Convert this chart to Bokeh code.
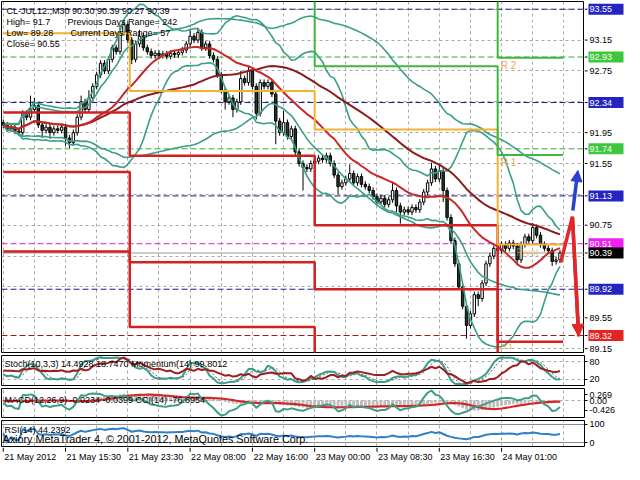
import numpy as np
import pandas as pd
from bokeh.plotting import figure
from bokeh.layouts import column, row
from bokeh.models import (ColumnDataSource, FixedTicker, Label, Range1d, Span, Arrow,
                          NormalHead)
from bokeh.core.properties import value
from bokeh.embed import file_html
from bokeh.resources import INLINE

# ---------------- data ----------------
close = [92.05, 92.00, 92.02, 91.97, 91.95, 92.20, 92.15, 92.25, 92.30, 92.05,
         91.98, 92.02, 91.95, 92.00, 91.98, 92.02, 91.88, 91.82, 91.95, 92.15,
         92.35, 92.25, 92.40, 92.55, 92.70, 92.85, 92.75, 92.90, 93.05, 93.00,
         93.25, 93.35, 93.15, 92.90, 93.10, 93.20, 93.05, 93.00, 92.95, 92.98,
         92.95, 92.97, 92.94, 92.98, 92.96, 92.99, 93.02, 93.10, 93.20, 93.15,
         93.25, 93.05, 93.10, 92.95, 92.90, 92.70, 92.50, 92.35, 92.40, 92.25,
         92.35, 92.65, 92.60, 92.75, 92.55, 92.20, 92.60, 92.55, 92.60, 92.45,
         92.10, 91.95, 92.08, 91.90, 92.00, 91.70, 91.55, 91.50, 91.48, 91.55,
         91.58, 91.62, 91.60, 91.65, 91.55, 91.40, 91.25, 91.30, 91.35, 91.42,
         91.30, 91.38, 91.28, 91.25, 91.20, 91.12, 91.05, 91.10, 91.02, 91.08,
         91.20, 91.00, 90.92, 90.95, 90.92, 90.98, 90.95, 91.05, 91.18, 91.30,
         91.48, 91.35, 91.45, 91.20, 90.85, 90.55, 90.25, 89.95, 89.70, 89.45,
         89.60, 89.85, 89.80, 90.00, 90.25, 90.35, 90.45, 90.42, 90.50, 90.45,
         90.52, 90.48, 90.30, 90.50, 90.60, 90.55, 90.72, 90.62, 90.50, 90.45,
         90.42, 90.28, 90.30, 90.39]
first_open = 92.08
wick_default = 0.04
wick_up_big = {7: 0.18, 8: 0.10, 20: 0.08, 22: 0.10, 30: 0.10, 31: 0.06, 35: 0.08,
               48: 0.08, 50: 0.06, 61: 0.10, 63: 0.06, 72: 0.15, 89: 0.12, 100: 0.10,
               110: 0.08, 112: 0.10, 136: 0.06}
wick_dn_big = {10: 0.10, 12: 0.08, 16: 0.10, 17: 0.07, 33: 0.06, 57: 0.10, 59: 0.10,
               65: 0.08, 70: 0.30, 77: 0.30, 86: 0.10, 101: 0.08, 102: 0.15, 113: 0.15,
               119: 0.17, 122: 0.10, 132: 0.06, 141: 0.06}

date_ticks = [0, 16, 32, 48, 64, 80, 96, 112, 128]
date_labels = ["21 May 2012", "21 May 15:30", "21 May 23:30", "22 May 08:00",
               "22 May 16:00", "23 May 00:00", "23 May 08:30", "23 May 16:30",
               "24 May 01:00"]

# daily pivot levels (4 days)
day_edges = [0, 32.5, 80, 127, 143.8]
pivot = [93.24, 92.49, 91.99, 90.50]
s1 = [92.21, 91.65, 90.75, 89.24]
s2 = [91.44, 90.27, 89.92, 88.08]
s3 = [90.41, 89.43, 88.69, 86.82]
r1 = [94.01, 93.87, 92.81, 91.66]
r2 = [94.75, 94.71, 94.05, 92.92]

level_values = [93.55, 92.93, 92.34, 91.74, 91.13, 90.51, 90.39, 89.92, 89.32]
level_colors = ["#2424c0", "#3cc83c", "#2424c0", "#3cc83c", "#2424c0",
                "#f020f0", "#000000", "#2424c0", "#e62222"]
price_ticks = [89.15, 89.55, 90.75, 91.55, 91.95, 92.75, 93.15]
price_grid = [89.15, 89.55, 89.95, 90.35, 90.75, 91.15, 91.55, 91.95, 92.35, 92.75,
              93.15, 93.55]

fc_red_x = [143.2, 146.2, 147.8]
fc_red_y = [90.27, 90.86, 89.31]
fc_blue_x = [146.3, 147.6]
fc_blue_y = [90.94, 91.46]

info_lines = ["CL-JUL12.,M30  90.30 90.39 90.27 90.39", "High= 91.7", "Low= 89.28",
              "Close= 90.55"]
info_right = ["Previous Days Range= 242", "Current Days Range= 57"]

# ---------------- derived ----------------
n = len(close)
idx = np.arange(n)
c = pd.Series(close, dtype=float)
o = pd.Series([first_open] + close[:-1], dtype=float)
up = np.array([wick_up_big.get(i, wick_default) for i in range(n)])
dn = np.array([wick_dn_big.get(i, wick_default) for i in range(n)])
hi = pd.Series(np.maximum(o, c) + up)
lo = pd.Series(np.minimum(o, c) - dn)

ma_fast = c.rolling(20, min_periods=1).mean()
sd_fast = c.rolling(20, min_periods=1).std(ddof=0)
ma_slow = c.rolling(50, min_periods=1).mean()
sd_slow = c.rolling(50, min_periods=1).std(ddof=0)

ll = lo.rolling(10, min_periods=1).min()
hh = hi.rolling(10, min_periods=1).max()
stk = (c - ll).rolling(3, min_periods=1).sum() / (hh - ll).rolling(3, min_periods=1).sum() * 100
std_ = stk.rolling(3, min_periods=1).mean()
ref_i = np.maximum(idx - 14, 0)
mom = c.values / c.values[ref_i] * 100

macd = c.ewm(span=12, adjust=False).mean() - c.ewm(span=26, adjust=False).mean()
sig = macd.rolling(9, min_periods=1).mean()
tp = (hi + lo + c) / 3
sma_tp = tp.rolling(14, min_periods=1).mean()
mad = tp.rolling(14, min_periods=1).apply(lambda s: np.mean(np.abs(s - s.mean())), raw=True)
cci = ((tp - sma_tp) / (0.015 * mad.replace(0, np.nan))).fillna(0)

delta = c.diff().fillna(0)
gain = delta.clip(lower=0).ewm(alpha=1 / 14, adjust=False).mean()
loss = (-delta.clip(upper=0)).ewm(alpha=1 / 14, adjust=False).mean()
rsi = (100 - 100 / (1 + gain / loss.replace(0, np.nan))).fillna(50)

# ---------------- styling helpers ----------------
FONT = "Liberation Sans"
FW = 583
RB = 40
TEAL = "#3c9e86"
x_range = Range1d(-0.45, 149.3)


def base_fig(frame_h, y_range, top=2, bottom=1, right=RB, yaxis="right"):
    f = figure(frame_width=FW, frame_height=frame_h, x_range=x_range, y_range=y_range,
               output_backend="svg", toolbar_location=None, x_axis_location=None,
               y_axis_location=yaxis, min_border_left=1, min_border_right=right,
               min_border_top=top, min_border_bottom=bottom)
    f.outline_line_color = "black"
    f.outline_line_alpha = 1
    f.outline_line_width = 1
    f.background_fill_color = "white"
    f.border_fill_color = "white"
    f.xgrid.ticker = FixedTicker(ticks=list(range(0, 150, 8)))
    f.grid.grid_line_color = "#a9a9a9"
    f.grid.grid_line_dash = "3 3"
    if yaxis is not None:
        ax = f.yaxis[0]
        ax.major_label_text_font = FONT
        ax.major_label_text_font_size = "9px"
        ax.major_label_text_color = "black"
        ax.major_tick_out = 3
        ax.major_tick_in = 0
        ax.minor_tick_out = 0
        ax.minor_tick_in = 0
        ax.axis_line_color = None
        ax.major_label_standoff = 2
    return f


def txt(f, x, y, s, size="9px", color="black", dx=4):
    f.add_layout(Label(x=x, y=y, text=s, x_offset=dx, text_font=FONT, text_font_size=size,
                       text_color=color, text_baseline="middle", text_align="left"))


# ---------------- main chart ----------------
main_y = Range1d(89.10, 93.65)
p = base_fig(351, main_y, top=1, bottom=1, right=0, yaxis=None)
p.ygrid.ticker = FixedTicker(ticks=price_grid)

dash_cols = {"#2424c0": "#1c1c8c", "#3cc83c": "#3aa83a", "#f020f0": "#d020d0",
             "#000000": "#9a9a9a", "#e62222": "#a01818"}
for v, col in zip(level_values, level_colors):
    dash = "solid" if col == "#000000" else "6 3"
    p.add_layout(Span(location=v, dimension="width", line_color=dash_cols[col],
                      line_dash=dash, line_width=1, level="underlay"))


def step_xy(vals):
    xs, ys = [], []
    for k, v in enumerate(vals):
        xs += [day_edges[k], day_edges[k + 1]]
        ys += [v, v]
    return xs, ys


# candles
is_bull = (c >= o).values
src = ColumnDataSource(dict(x=idx, h=hi.values, l=lo.values,
                            top=np.maximum(o, c).values, bot=np.minimum(o, c).values,
                            fill=np.where(is_bull, "white", "#1f3d1f")))
p.segment(x0="x", y0="l", x1="x", y1="h", source=src, line_color="black", line_width=1)
p.vbar(x="x", width=0.62, top="top", bottom="bot", source=src, fill_color="fill",
       line_color="black", line_width=1)

# bands and averages
p.line(idx, ma_slow + 1.6 * sd_slow, line_color=TEAL, line_width=1.6)
p.line(idx, ma_slow - 1.6 * sd_slow, line_color=TEAL, line_width=1.6)
p.line(idx, ma_fast + 2 * sd_fast, line_color=TEAL, line_width=1.6)
p.line(idx, ma_fast - 2 * sd_fast, line_color=TEAL, line_width=1.6)
p.line(idx, ma_slow, line_color="#8c1c1c", line_width=2)
p.line(idx, ma_fast, line_color="#c82828", line_width=2)

# pivot step lines
for vals, col, w in [(s1, "#d42020", 2.5), (s2, "#d42020", 2.5), (s3, "#d42020", 2.5),
                     (pivot, "#f2b233", 2), (r1, "#3cb83c", 2), (r2, "#3cb83c", 2)]:
    xs, ys = step_xy(vals)
    p.line(xs, ys, line_color=col, line_width=w)

lab_col = "#e6aa55"
for s, v in [("R 2", r2[3]), ("R 1", r1[3])]:
    p.add_layout(Label(x=day_edges[3], y=v, text=s, x_offset=3, y_offset=-2,
                       text_font=FONT, text_font_size="10px", text_color=lab_col,
                       text_baseline="top"))
p.add_layout(Label(x=day_edges[3], y=s1[3], text="S 1", x_offset=3, y_offset=0,
                   text_font=FONT, text_font_size="8px", text_color=lab_col,
                   text_baseline="top"))
p.add_layout(Label(x=day_edges[3] + 4, y=pivot[3], text="Pivot", x_offset=3, y_offset=-2,
                   text_font=FONT, text_font_size="10px", text_color=lab_col,
                   text_alpha=0.6, text_baseline="top"))

# forecast arrows
p.line(fc_red_x, fc_red_y, line_color="#e02828", line_width=3.5)
p.add_layout(Arrow(end=NormalHead(size=12, fill_color="#e02828", line_color="#e02828"),
                   x_start=fc_red_x[-2], y_start=fc_red_y[-2], x_end=fc_red_x[-1],
                   y_end=fc_red_y[-1], line_color="#e02828", line_width=3.5))
p.add_layout(Arrow(end=NormalHead(size=11, fill_color="#2a40d0", line_color="#2a40d0"),
                   x_start=fc_blue_x[0], y_start=fc_blue_y[0], x_end=fc_blue_x[1],
                   y_end=fc_blue_y[1], line_color="#2a40d0", line_width=3.5))

# info text
info_y = [93.525, 93.39, 93.24, 93.10]
for s, y in zip(info_lines, info_y):
    txt(p, x_range.start, y, s, dx=5)
txt(p, x_range.start, info_y[1], info_right[0], dx=66)
txt(p, x_range.start, info_y[2], info_right[1], dx=69)

# ---------------- price scale column (right of main chart) ----------------
pl = figure(frame_width=RB, frame_height=351, x_range=Range1d(0, RB), y_range=main_y,
            output_backend="svg", toolbar_location=None, x_axis_location=None,
            y_axis_location=None, min_border_left=0, min_border_right=0,
            min_border_top=1, min_border_bottom=1)
pl.outline_line_color = None
pl.grid.visible = False
pl.background_fill_color = "white"
pl.border_fill_color = "white"
pl.segment(x0=0, y0=price_ticks, x1=3, y1=price_ticks, line_color="black", line_width=1)
pl.text(x=5, y=price_ticks, text=["%.2f" % t for t in price_ticks], text_font=value(FONT),
        text_font_size="9px", text_baseline="middle", text_color="black")
pl.segment(x0=0, y0=level_values, x1=3, y1=level_values, line_color="black", line_width=1)
pl.rect(x=21.5, y=level_values, width=35, height=11, height_units="screen",
        fill_color=level_colors, line_color=None)
pl.text(x=5, y=level_values, text=["%.2f" % v for v in level_values], text_font=value(FONT),
        text_font_size="9px", text_baseline="middle", text_color="white")

# ---------------- stochastic / momentum ----------------
ps = base_fig(30, Range1d(-2, 102))
ps.ygrid.ticker = FixedTicker(ticks=[20, 80])
ps.yaxis[0].ticker = FixedTicker(ticks=[20, 80])
mlo, mhi = float(np.min(mom)), float(np.max(mom))
pad = (mhi - mlo) * 0.08
ps.extra_y_ranges = {"mom": Range1d(mlo - pad, mhi + pad)}
ps.line(idx, std_, line_color="#555555", line_width=1, line_dash="2 2")
ps.line(idx, stk, line_color=TEAL, line_width=2)
ps.line(idx, mom, line_color="#9e1e1e", line_width=2, y_range_name="mom")
txt(ps, x_range.start, 73, "Stoch(10,3,3) 14.4928 18.7470  Momentum(14) 99.8012", dx=3)

# ---------------- MACD / CCI ----------------
pm = base_fig(29, Range1d(-0.75, 0.55))
pm.ygrid.ticker = FixedTicker(ticks=[0.0])
pm.yaxis[0].ticker = FixedTicker(ticks=[0.269, 0.0, -0.426])
pm.yaxis[0].major_label_overrides = {0.269: "0.269", 0: "0.00", -0.426: "-0.426"}
clo, chi = float(cci.min()), float(cci.max())
cp = (chi - clo) * 0.08
pm.extra_y_ranges = {"cci": Range1d(clo - cp, chi + cp)}
pm.vbar(x=idx, top=macd.values, bottom=0, width=0.45, fill_color="#bdbdbd",
        line_color="#bdbdbd")
pm.line(idx, sig, line_color="#d42828", line_width=2.2)
pm.line(idx, cci, line_color=TEAL, line_width=2, y_range_name="cci")
txt(pm, x_range.start, 0.04, "MACD(12,26,9) -0.0234 -0.0399  CCI(14) -76.8954", dx=3)

# ---------------- RSI ----------------
pr = base_fig(26, Range1d(-20, 120), bottom=1)
pr.ygrid.ticker = FixedTicker(ticks=[100, 0])
pr.ygrid.grid_line_color = "#8a8a8a"
pr.ygrid.grid_line_dash = "solid"
pr.yaxis[0].ticker = FixedTicker(ticks=[100, 0])
pr.line(idx, rsi, line_color="#2f80c8", line_width=2)
txt(pr, x_range.start, 68, "RSI(14) 44.2392", dx=3)
txt(pr, x_range.start, 22, "Axiory MetaTrader 4, \u00a9 2001-2012, MetaQuotes Software Corp.",
    size="10.8px", dx=1)

# ---------------- date labels strip ----------------
pd_ = figure(frame_width=FW, frame_height=17, x_range=x_range, y_range=Range1d(0, 1),
             output_backend="svg", toolbar_location=None, x_axis_location=None,
             y_axis_location=None, min_border_left=1, min_border_right=RB,
             min_border_top=0, min_border_bottom=0)
pd_.outline_line_color = None
pd_.grid.visible = False
pd_.background_fill_color = "white"
pd_.border_fill_color = "white"
pd_.segment(x0=date_ticks, y0=1, x1=date_ticks, y1=0.75, line_color="black", line_width=1)
pd_.text(x=date_ticks, y=0.42, text=date_labels, x_offset=1, text_font=value(FONT),
         text_font_size="9px", text_baseline="middle", text_align="left", text_color="black")

layout = column(row(p, pl, spacing=0), ps, pm, pr, pd_, spacing=0)
open("out.html", "w").write(file_html(layout, INLINE))
